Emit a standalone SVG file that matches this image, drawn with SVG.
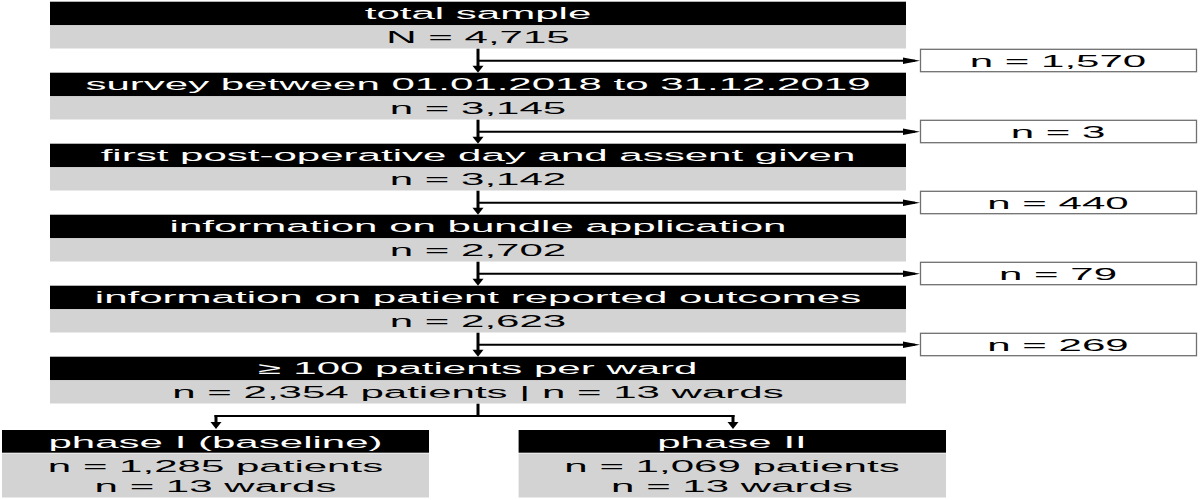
<svg xmlns="http://www.w3.org/2000/svg" width="1200" height="500" viewBox="0 0 1200 500">
<style>
.hd{fill:#000}
.bd{fill:#d3d3d3}
.sb{fill:#fff;stroke:#707070;stroke-width:1.3}
text{font-family:"Liberation Sans",Arial,sans-serif;font-size:16.3px;text-anchor:middle}
.wt{fill:#fff}
.bt{fill:#000}
.v{stroke:#000;stroke-width:3;fill:none}
.h{stroke:#000;stroke-width:2;fill:none}
</style>
<defs>
<marker id="ad" markerUnits="userSpaceOnUse" orient="0" overflow="visible" markerWidth="12" markerHeight="8" refX="0" refY="0">
<path d="M-5.5,-2 L5.5,-2 L0,5 Z" fill="#000"/>
</marker>
<marker id="ar" markerUnits="userSpaceOnUse" orient="0" overflow="visible" markerWidth="18" markerHeight="7" refX="0" refY="0">
<path d="M-12,-3.2 L5,0 L-12,3.2 Z" fill="#000"/>
</marker>
</defs>

<g id="connectors">
<line class="v" x1="478" y1="48.5" x2="478" y2="67.7" marker-end="url(#ad)"/>
<line class="h" x1="478" y1="60.7" x2="915" y2="60.7" marker-end="url(#ar)"/>
<line class="v" x1="478" y1="119.5" x2="478" y2="138.7" marker-end="url(#ad)"/>
<line class="h" x1="478" y1="131.7" x2="915" y2="131.7" marker-end="url(#ar)"/>
<line class="v" x1="478" y1="190.5" x2="478" y2="209.7" marker-end="url(#ad)"/>
<line class="h" x1="478" y1="202.7" x2="915" y2="202.7" marker-end="url(#ar)"/>
<line class="v" x1="478" y1="261.5" x2="478" y2="280.7" marker-end="url(#ad)"/>
<line class="h" x1="478" y1="273.7" x2="915" y2="273.7" marker-end="url(#ar)"/>
<line class="v" x1="478" y1="332.5" x2="478" y2="351.7" marker-end="url(#ad)"/>
<line class="h" x1="478" y1="344.7" x2="915" y2="344.7" marker-end="url(#ar)"/>
<line class="v" x1="478" y1="403.5" x2="478" y2="417"/>
<line class="h" x1="214.5" y1="416" x2="734.5" y2="416"/>
<line class="v" x1="216" y1="415" x2="216" y2="424" marker-end="url(#ad)"/>
<line class="v" x1="733" y1="415" x2="733" y2="424" marker-end="url(#ad)"/>
</g>

<g id="n0">
<rect class="hd" x="50" y="1.7" width="856" height="23.5"/>
<rect class="bd" x="50" y="26" width="856" height="22.5"/>
<text class="wt" transform="translate(478 19.2) scale(2.58 1)">total sample</text>
<text class="bt" transform="translate(478 43.2) scale(2.58 1)">N = 4,715</text>
</g>
<g id="n1">
<rect class="hd" x="50" y="72.7" width="856" height="23.5"/>
<rect class="bd" x="50" y="97" width="856" height="22.5"/>
<text class="wt" transform="translate(478 90.2) scale(2.58 1)">survey between 01.01.2018 to 31.12.2019</text>
<text class="bt" transform="translate(478 114.2) scale(2.58 1)">n = 3,145</text>
</g>
<g id="n2">
<rect class="hd" x="50" y="143.7" width="856" height="23.5"/>
<rect class="bd" x="50" y="168" width="856" height="22.5"/>
<text class="wt" transform="translate(478 161.2) scale(2.58 1)">first post-operative day and assent given</text>
<text class="bt" transform="translate(478 185.2) scale(2.58 1)">n = 3,142</text>
</g>
<g id="n3">
<rect class="hd" x="50" y="214.7" width="856" height="23.5"/>
<rect class="bd" x="50" y="239" width="856" height="22.5"/>
<text class="wt" transform="translate(478 232.2) scale(2.58 1)">information on bundle application</text>
<text class="bt" transform="translate(478 256.2) scale(2.58 1)">n = 2,702</text>
</g>
<g id="n4">
<rect class="hd" x="50" y="285.7" width="856" height="23.5"/>
<rect class="bd" x="50" y="310" width="856" height="22.5"/>
<text class="wt" transform="translate(478 303.2) scale(2.58 1)">information on patient reported outcomes</text>
<text class="bt" transform="translate(478 327.2) scale(2.58 1)">n = 2,623</text>
</g>
<g id="n5">
<rect class="hd" x="50" y="356.7" width="856" height="23.5"/>
<rect class="bd" x="50" y="381" width="856" height="22.5"/>
<text class="wt" transform="translate(478 374.2) scale(2.58 1)">≥ 100 patients per ward</text>
<text class="bt" transform="translate(478 398.2) scale(2.58 1)">n = 2,354 patients | n = 13 wards</text>
</g>

<g id="s0">
<rect class="sb" x="920.5" y="49.3" width="276" height="22.4"/>
<text class="bt" transform="translate(1058 66.6) scale(2.58 1)">n = 1,570</text>
</g>
<g id="s1">
<rect class="sb" x="920.5" y="120.3" width="276" height="22.4"/>
<text class="bt" transform="translate(1058 137.6) scale(2.58 1)">n = 3</text>
</g>
<g id="s2">
<rect class="sb" x="920.5" y="191.3" width="276" height="22.4"/>
<text class="bt" transform="translate(1058 208.6) scale(2.58 1)">n = 440</text>
</g>
<g id="s3">
<rect class="sb" x="920.5" y="262.3" width="276" height="22.4"/>
<text class="bt" transform="translate(1058 279.6) scale(2.58 1)">n = 79</text>
</g>
<g id="s4">
<rect class="sb" x="920.5" y="333.3" width="276" height="22.4"/>
<text class="bt" transform="translate(1058 350.6) scale(2.58 1)">n = 269</text>
</g>

<g id="p1">
<rect class="hd" x="2" y="430" width="427" height="22.7"/>
<rect class="bd" x="2" y="453.5" width="427" height="44"/>
<text class="wt" transform="translate(215.5 447.8) scale(2.58 1)">phase I (baseline)</text>
<text class="bt" transform="translate(215.5 471.7) scale(2.58 1)">n = 1,285 patients</text>
<text class="bt" transform="translate(215.5 491.7) scale(2.58 1)">n = 13 wards</text>
</g>
<g id="p2">
<rect class="hd" x="518.6" y="430" width="427.4" height="22.7"/>
<rect class="bd" x="518.6" y="453.5" width="427.4" height="44"/>
<text class="wt" transform="translate(732 447.8) scale(2.58 1)">phase II</text>
<text class="bt" transform="translate(732 471.7) scale(2.58 1)">n = 1,069 patients</text>
<text class="bt" transform="translate(732 491.7) scale(2.58 1)">n = 13 wards</text>
</g>
</svg>
